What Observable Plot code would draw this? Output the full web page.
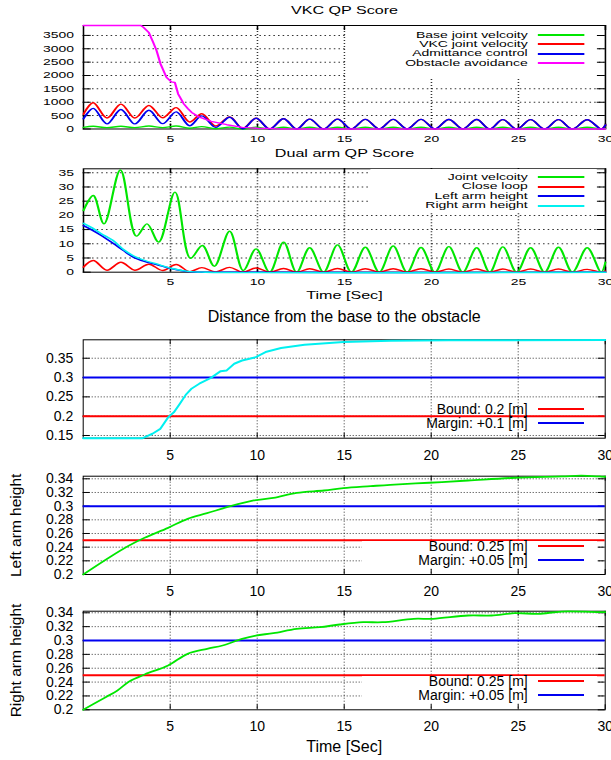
<!DOCTYPE html>
<html><head><meta charset="utf-8">
<script src="https://cdn.jsdelivr.net/npm/d3@7"></script>
<script src="https://cdn.jsdelivr.net/npm/@observablehq/plot@0.6"></script>
<style>
body{margin:0;background:#fff;}
#root{position:relative;width:611px;height:760px;overflow:hidden;font-family:"Liberation Sans",Arial,sans-serif;background:#fff;}
#root svg{position:absolute;left:0;overflow:visible;}
</style></head><body><div id="root"></div>
<script>
// ---------------- DATA ----------------
const timeTicks = [5, 10, 15, 20, 25, 30];
const timeGrid = [5, 10, 15, 20, 25];

// Panel 1: VKC QP Score
const vkcTicks = [0, 500, 1000, 1500, 2000, 2500, 3000, 3500];
const vkcGrid = [500, 1000, 1500, 2000, 2500, 3000, 3500];
const waveT = [0,0.56,1.35,2.15,2.95,3.76,4.55,5.33,6.1,6.8,7.6,8.4,9.15,9.92,10.7,11.5,12.25,13.0,13.8,14.6,15.4,16.2,17.0,17.8,18.6,19.4,20.2,21.0,21.8,22.6,23.35,24.1,24.9,25.7,26.5,27.3,28.1,28.95,29.75,30];
const baseJointVel = [60,100,50,100,50,110,50,110,30,90,10,70,0,70,0,65,0,65,0,65,0,65,0,65,0,65,0,65,0,65,0,65,0,65,0,65,0,65,0,30];
const vkcJointVel = [550,980,410,930,410,880,420,800,260,570,110,450,20,400,0,380,0,370,0,370,0,360,0,360,0,360,0,355,0,355,0,350,0,350,0,350,0,345,0,150];
const admittance = [380,770,190,730,190,700,200,640,120,490,60,440,10,400,0,380,0,370,0,370,0,360,0,360,0,360,0,355,0,355,0,350,0,350,0,350,0,345,0,150];
const obstacleT = [0,3.3,3.45,3.76,4.0,4.2,4.43,4.77,5.05,5.25,5.44,5.77,6.0,6.22,6.67,7.34,8.24,9.13,10.0,11.0,12.0,30];
const obstacleAvoid = [3870,3870,3800,3600,3250,2930,2430,1930,1760,1740,1310,935,760,620,440,285,160,60,30,10,0,0];

// Panel 2: Dual arm QP Score
const dualTicks = [0, 5, 10, 15, 20, 25, 30, 35];
const dualGrid = [5, 10, 15, 20, 25, 30, 35];
const jointT = [0,0.56,1.18,2.12,3.04,3.65,4.32,5.26,6.15,6.83,7.52,8.4,9.18,9.92,10.7,11.5,12.25,13.0,13.8,14.6,15.4,16.2,17.0,17.8,18.6,19.4,20.2,21.0,21.8,22.6,23.35,24.1,24.9,25.7,26.5,27.3,28.1,28.95,29.75,30];
const jointVel = [21.7,27,17,36.0,12.7,17,10.6,28.2,4.9,9.4,2.1,14.4,0.6,8.2,0,10.6,0,8.6,0,9.6,0,8.8,0,9.2,0,8.7,0,9.0,0,8.6,0,8.9,0,8.6,0,8.8,0,8.6,0,3.5];
const closeLoop = [1.8,4.1,0.7,3.5,0.7,2.8,0.6,2.7,0.2,1.6,0.1,1.7,0,1.5,0,1.3,0,1.2,0,1.3,0,1.2,0,1.2,0,1.2,0,1.1,0,1.1,0,1.1,0,1.1,0,1.1,0,1.0,0,0.4];
const armT = [0,0.5,1,1.74,2.3,2.86,3.5,4.2,5.1,6.0,7.0,30];
const leftArmScore = [16.4,14.8,13.0,10.0,7.6,5.3,3.8,2.7,1.2,0.2,0,0];
const rightArmScore = [17.2,15.6,13.6,11.0,8.0,5.8,4.2,2.9,1.3,0.3,0,0];

// Panel 3: Distance from the base to the obstacle
const distTicks = [0.15, 0.2, 0.25, 0.3, 0.35];
const distT = [0,3.42,3.98,4.43,4.88,5.21,5.55,5.89,6.22,6.67,7.34,7.9,8.24,8.68,9.13,9.92,10.48,11.37,12.72,14.96,17.64,21.0,30];
const dist = [0.143,0.143,0.1545,0.167,0.197,0.210,0.232,0.255,0.271,0.284,0.299,0.3166,0.318,0.3357,0.344,0.3528,0.366,0.3763,0.385,0.392,0.3955,0.3965,0.397];
const distBound = 0.2, distMargin = 0.3;

// Panels 4/5: arm heights
const armTicks = [0.2, 0.22, 0.24, 0.26, 0.28, 0.3, 0.32, 0.34];
const armGrid = [0.22, 0.24, 0.26, 0.28, 0.32, 0.34];
const heightBound = 0.25, heightMargin = 0.3;
const leftT = [0,1.52,2.64,3.53,4.88,6.0,7.12,8.46,9.8,10.93,12.27,13.84,14.96,16.52,17.64,19.88,22.12,24.81,27.5,28.62,29.7,30];
const leftH = [0.2,0.2253,0.2424,0.2537,0.2683,0.2815,0.2897,0.2999,0.3083,0.3122,0.3195,0.3229,0.3263,0.3292,0.3312,0.3342,0.3375,0.3415,0.3434,0.3445,0.3434,0.343];
const rightT = [0,1.29,1.97,2.64,3.53,4.88,6.0,7.12,8.01,9.13,9.92,10.93,12.27,13.6,14.74,16.08,17.2,18.99,20.1,22.12,23.47,24.81,26.16,27.5,29.7,30];
const rightH = [0.2,0.2182,0.2279,0.2408,0.251,0.264,0.2808,0.288,0.2928,0.3024,0.3072,0.3106,0.3169,0.3192,0.3231,0.3264,0.3264,0.3313,0.3313,0.3361,0.3361,0.3394,0.3385,0.3418,0.341,0.341];

// ---------------- LAYOUT ----------------
const W = 611, FL = 82.7, FR = 604.7, S = 1.55;
const GREEN = "#00e600", RED = "#ff0000", BLUE = "#0000f0", MAG = "#ff00ff", CYAN = "#00f0f0";
const FONT = "Liberation Sans, Arial, sans-serif";
const root = document.getElementById("root");
const rows = (T, V) => T.map((t, i) => ({t, v: V[i]}));

function makePanel(o) {
  const ml = FL / o.sx, mr = (W - FR) / o.sx, w = W / o.sx;
  const fw = w - ml - mr, fh = o.height - o.mt - o.mb;
  const dot = {stroke: "#000", strokeOpacity: 0.8, strokeDasharray: "1,2"};
  const tk = {stroke: "#000", strokeOpacity: 1};
  const marks = [
    Plot.gridY(o.gridY, dot),
    Plot.gridX(timeGrid, dot),
    Plot.gridY(o.yTicks, {...tk, strokeDasharray: `${o.tyl},100000`}),
    Plot.gridY(o.yTicks, {...tk, strokeDasharray: `0,${fw - o.tyl},${o.tyl},100000`}),
    Plot.gridX(timeTicks, {...tk, strokeDasharray: `${o.txl},100000`}),
    Plot.gridX(timeTicks, {...tk, strokeDasharray: `0,${fh - o.txl},${o.txl},100000`}),
    Plot.frame({stroke: "#000", strokeWidth: 1}),
    ...o.marks,
    Plot.axisY(o.yTicks, {tickSize: 0, tickPadding: o.padY, tickFormat: d => String(d), label: null}),
    Plot.axisX(timeTicks, {tickSize: 0, tickPadding: o.padX, tickFormat: d => String(d), label: null}),
    ...(o.texts || [])
  ];
  const svg = Plot.plot({
    width: w, height: o.height, marginTop: o.mt, marginBottom: o.mb, marginLeft: ml, marginRight: mr,
    x: {domain: [0, 30]}, y: {domain: o.yDomain},
    style: {fontFamily: FONT, fontSize: o.fs + "px", color: "#000", background: "transparent", overflow: "visible"},
    marks
  });
  svg.style.top = o.top + "px";
  return svg;
}

const label = (str, anchor, d, fs, extra = {}) =>
  Plot.text([str], {text: d0 => d0, frameAnchor: anchor, textAnchor: "middle", lineAnchor: "middle", fontSize: fs, ...d, ...extra});

function legend(parent, {sx, fs, items, ys, box, lw}) {
  if (box) {
    const b = document.createElement("div");
    b.style.cssText = `position:absolute;background:#fff;left:${box[0]/sx}px;top:${box[1]}px;width:${(box[2]-box[0])/sx}px;height:${box[3]-box[1]}px`;
    parent.appendChild(b);
  }
  items.forEach((it, i) => {
    const y = ys[i];
    const t = document.createElement("div");
    t.textContent = it.label;
    t.style.cssText = `position:absolute;left:0;width:${527.7/sx}px;text-align:right;top:${y - fs/2}px;height:${fs}px;line-height:${fs}px;font-size:${fs}px;white-space:nowrap;color:#000;font-family:${FONT}`;
    parent.appendChild(t);
    const l = document.createElement("div");
    l.style.cssText = `position:absolute;left:${538/sx}px;width:${46/sx}px;top:${Math.round(y - lw/2)}px;height:${lw}px;background:${it.color}`;
    parent.appendChild(l);
  });
}

// ---- top (stretched gnuplot) figure ----
const topBox = document.createElement("div");
topBox.style.cssText = `position:absolute;left:0;top:0;width:${W/S}px;height:300px;transform:scaleX(${S});transform-origin:0 0;`;
root.appendChild(topBox);

const lineOpt = (color, w, curve) => ({x: "t", y: "v", stroke: color, strokeWidth: w, curve});

topBox.appendChild(makePanel({
  sx: S, top: 0, height: 147, mt: 25, mb: 18.5, yDomain: [0, 3870], yTicks: vkcTicks, gridY: vkcGrid,
  fs: 9, padY: 9.4 / S, padX: 7, tyl: 8 / S, txl: 5,
  marks: [
    Plot.line(rows(waveT, baseJointVel), lineOpt(GREEN, 1.4, "catmull-rom")),
    Plot.line(rows(waveT, vkcJointVel), lineOpt(RED, 1.4, "catmull-rom")),
    Plot.line(rows(waveT, admittance), lineOpt(BLUE, 1.4, "catmull-rom")),
    Plot.line(rows(obstacleT, obstacleAvoid), lineOpt(MAG, 1.4, "linear"))
  ],
  texts: [label("VKC QP Score", "top", {dy: -14.5}, 10.4)]
}));
legend(topBox, {sx: S, fs: 9, lw: 2, box: [345, 26, 596, 77], ys: [35, 44.4, 53.8, 63.2], items: [
  {label: "Base joint velcoity", color: GREEN},
  {label: "VKC joint velocity", color: RED},
  {label: "Admittance control", color: BLUE},
  {label: "Obstacle avoidance", color: MAG}
]});

topBox.appendChild(makePanel({
  sx: S, top: 147, height: 153, mt: 21.3, mb: 28.3, yDomain: [0, 36.4], yTicks: dualTicks, gridY: dualGrid,
  fs: 9, padY: 9.4 / S, padX: 6.8, tyl: 8 / S, txl: 5,
  marks: [
    Plot.line(rows(jointT, jointVel), lineOpt(GREEN, 1.4, "catmull-rom")),
    Plot.line(rows(waveT, closeLoop), lineOpt(RED, 1.4, "catmull-rom")),
    Plot.line(rows(armT, leftArmScore), lineOpt(BLUE, 1.4, "catmull-rom")),
    Plot.line(rows(armT, rightArmScore), lineOpt(CYAN, 1.4, "catmull-rom"))
  ],
  texts: [
    label("Dual arm QP Score", "top", {dy: -15.3}, 10.4),
    label("Time [Sec]", "bottom", {dy: 23.6}, 10.4)
  ]
}));
legend(topBox, {sx: S, fs: 9, lw: 2, box: [370, 169, 596, 212], ys: [177.3, 186.8, 196.3, 205.8], items: [
  {label: "Joint velcoity", color: GREEN},
  {label: "Close loop", color: RED},
  {label: "Left arm height", color: BLUE},
  {label: "Right arm height", color: CYAN}
]});

// ---- bottom figure ----
const low = {sx: 1, fs: 14, padY: 10, padX: 11.5, tyl: 7, txl: 5};

root.appendChild(makePanel({
  ...low, top: 300, height: 162, mt: 39.3, mb: 24.3, yDomain: [0.143, 0.3977], yTicks: distTicks, gridY: distTicks,
  marks: [
    Plot.ruleY([distBound], {stroke: RED, strokeWidth: 2}),
    Plot.ruleY([distMargin], {stroke: BLUE, strokeWidth: 2}),
    Plot.line(rows(distT, dist), lineOpt(CYAN, 2, "linear"))
  ],
  texts: [label("Distance from the base to the obstacle", "top", {dy: -22.6}, 16)]
}));
legend(root, {sx: 1, fs: 14, lw: 2, box: null, ys: [409.3, 423.3], items: [
  {label: "Bound: 0.2 [m]", color: RED},
  {label: "Margin: +0.1 [m]", color: BLUE}
]});

root.appendChild(makePanel({
  ...low, top: 462, height: 138, mt: 13.7, mb: 26, yDomain: [0.2, 0.3438], yTicks: armTicks, gridY: armGrid,
  marks: [
    Plot.ruleY([heightBound], {stroke: RED, strokeWidth: 2}),
    Plot.ruleY([heightMargin], {stroke: BLUE, strokeWidth: 2}),
    Plot.line(rows(leftT, leftH), lineOpt(GREEN, 1.8, "catmull-rom"))
  ],
  texts: [label("Left arm height", "left", {dx: -67.2}, 15.5, {rotate: -90})]
}));
legend(root, {sx: 1, fs: 14, lw: 2, box: [362, 541, 597, 568], ys: [546, 560], items: [
  {label: "Bound: 0.25 [m]", color: RED},
  {label: "Margin: +0.05 [m]", color: BLUE}
]});

root.appendChild(makePanel({
  ...low, top: 600, height: 160, mt: 10.7, mb: 50.7, yDomain: [0.2, 0.3423], yTicks: armTicks, gridY: armGrid,
  marks: [
    Plot.ruleY([heightBound], {stroke: RED, strokeWidth: 2}),
    Plot.ruleY([heightMargin], {stroke: BLUE, strokeWidth: 2}),
    Plot.line(rows(rightT, rightH), lineOpt(GREEN, 1.8, "catmull-rom"))
  ],
  texts: [
    label("Right arm height", "left", {dx: -67.2}, 15.5, {rotate: -90}),
    label("Time [Sec]", "bottom", {dy: 37.4}, 16)
  ]
}));
legend(root, {sx: 1, fs: 14, lw: 2, box: [362, 676, 597, 703], ys: [681, 695], items: [
  {label: "Bound: 0.25 [m]", color: RED},
  {label: "Margin: +0.05 [m]", color: BLUE}
]});
</script></body></html>
